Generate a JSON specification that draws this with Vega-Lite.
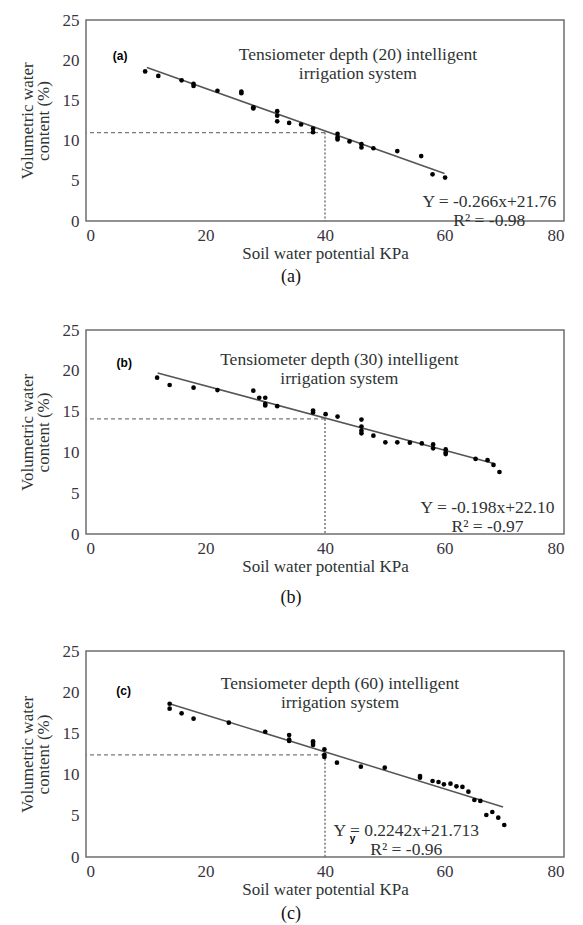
{
  "$schema": "https://vega.github.io/schema/vega-lite/v6.json",
  "padding": {"left": 17, "top": 10, "right": 5, "bottom": 0},
  "background": "white",
  "spacing": 33,
  "datasets": {
    "points": [
      {"panel": "a", "kpa": 9.9, "vwc": 18.6}, {"panel": "a", "kpa": 12.1, "vwc": 18.05},
      {"panel": "a", "kpa": 16.0, "vwc": 17.5}, {"panel": "a", "kpa": 18.0, "vwc": 17.05},
      {"panel": "a", "kpa": 18.0, "vwc": 16.8}, {"panel": "a", "kpa": 22.0, "vwc": 16.2},
      {"panel": "a", "kpa": 26.0, "vwc": 16.1}, {"panel": "a", "kpa": 26.0, "vwc": 15.9},
      {"panel": "a", "kpa": 28.0, "vwc": 14.15}, {"panel": "a", "kpa": 28.0, "vwc": 14.0},
      {"panel": "a", "kpa": 32.0, "vwc": 13.66}, {"panel": "a", "kpa": 32.0, "vwc": 13.1},
      {"panel": "a", "kpa": 32.0, "vwc": 12.4}, {"panel": "a", "kpa": 34.0, "vwc": 12.2},
      {"panel": "a", "kpa": 36.0, "vwc": 12.0}, {"panel": "a", "kpa": 38.0, "vwc": 11.5},
      {"panel": "a", "kpa": 38.0, "vwc": 11.05}, {"panel": "a", "kpa": 42.1, "vwc": 10.85},
      {"panel": "a", "kpa": 42.1, "vwc": 10.4}, {"panel": "a", "kpa": 42.1, "vwc": 10.15},
      {"panel": "a", "kpa": 44.1, "vwc": 9.9}, {"panel": "a", "kpa": 46.1, "vwc": 9.55},
      {"panel": "a", "kpa": 46.1, "vwc": 9.15}, {"panel": "a", "kpa": 48.1, "vwc": 9.05},
      {"panel": "a", "kpa": 52.1, "vwc": 8.7}, {"panel": "a", "kpa": 56.1, "vwc": 8.07},
      {"panel": "a", "kpa": 58.0, "vwc": 5.8}, {"panel": "a", "kpa": 60.1, "vwc": 5.4},
      {"panel": "b", "kpa": 11.9, "vwc": 19.16}, {"panel": "b", "kpa": 14.0, "vwc": 18.26},
      {"panel": "b", "kpa": 18.0, "vwc": 17.93}, {"panel": "b", "kpa": 22.0, "vwc": 17.64},
      {"panel": "b", "kpa": 28.0, "vwc": 17.56}, {"panel": "b", "kpa": 29.0, "vwc": 16.7},
      {"panel": "b", "kpa": 30.0, "vwc": 16.7}, {"panel": "b", "kpa": 30.0, "vwc": 15.95},
      {"panel": "b", "kpa": 30.0, "vwc": 15.75}, {"panel": "b", "kpa": 32.0, "vwc": 15.67},
      {"panel": "b", "kpa": 38.0, "vwc": 15.13}, {"panel": "b", "kpa": 38.0, "vwc": 14.9},
      {"panel": "b", "kpa": 40.1, "vwc": 14.68}, {"panel": "b", "kpa": 42.1, "vwc": 14.39},
      {"panel": "b", "kpa": 46.1, "vwc": 14.02}, {"panel": "b", "kpa": 46.1, "vwc": 13.16},
      {"panel": "b", "kpa": 46.1, "vwc": 12.66}, {"panel": "b", "kpa": 46.1, "vwc": 12.34},
      {"panel": "b", "kpa": 48.1, "vwc": 12.05}, {"panel": "b", "kpa": 50.1, "vwc": 11.23},
      {"panel": "b", "kpa": 52.1, "vwc": 11.23}, {"panel": "b", "kpa": 54.2, "vwc": 11.19},
      {"panel": "b", "kpa": 56.2, "vwc": 11.1}, {"panel": "b", "kpa": 58.1, "vwc": 10.98},
      {"panel": "b", "kpa": 58.1, "vwc": 10.5}, {"panel": "b", "kpa": 60.2, "vwc": 10.36},
      {"panel": "b", "kpa": 60.2, "vwc": 10.0}, {"panel": "b", "kpa": 60.2, "vwc": 9.8},
      {"panel": "b", "kpa": 65.2, "vwc": 9.2}, {"panel": "b", "kpa": 67.2, "vwc": 9.05},
      {"panel": "b", "kpa": 68.2, "vwc": 8.47}, {"panel": "b", "kpa": 69.2, "vwc": 7.6},
      {"panel": "c", "kpa": 14.0, "vwc": 18.6}, {"panel": "c", "kpa": 14.0, "vwc": 18.0},
      {"panel": "c", "kpa": 16.0, "vwc": 17.44}, {"panel": "c", "kpa": 18.0, "vwc": 16.79},
      {"panel": "c", "kpa": 23.9, "vwc": 16.3}, {"panel": "c", "kpa": 30.0, "vwc": 15.2},
      {"panel": "c", "kpa": 34.0, "vwc": 14.8}, {"panel": "c", "kpa": 34.0, "vwc": 14.24},
      {"panel": "c", "kpa": 34.0, "vwc": 14.08}, {"panel": "c", "kpa": 38.0, "vwc": 14.04},
      {"panel": "c", "kpa": 38.0, "vwc": 13.83}, {"panel": "c", "kpa": 38.0, "vwc": 13.6},
      {"panel": "c", "kpa": 39.9, "vwc": 13.07}, {"panel": "c", "kpa": 39.9, "vwc": 12.4},
      {"panel": "c", "kpa": 39.9, "vwc": 12.14}, {"panel": "c", "kpa": 42.0, "vwc": 11.45},
      {"panel": "c", "kpa": 46.0, "vwc": 10.96}, {"panel": "c", "kpa": 50.0, "vwc": 10.84},
      {"panel": "c", "kpa": 55.9, "vwc": 9.83}, {"panel": "c", "kpa": 55.9, "vwc": 9.63},
      {"panel": "c", "kpa": 58.0, "vwc": 9.22}, {"panel": "c", "kpa": 59.0, "vwc": 9.1},
      {"panel": "c", "kpa": 59.9, "vwc": 8.82}, {"panel": "c", "kpa": 61.0, "vwc": 8.9},
      {"panel": "c", "kpa": 62.0, "vwc": 8.58}, {"panel": "c", "kpa": 63.0, "vwc": 8.5},
      {"panel": "c", "kpa": 64.0, "vwc": 7.93}, {"panel": "c", "kpa": 65.0, "vwc": 6.92},
      {"panel": "c", "kpa": 66.0, "vwc": 6.8}, {"panel": "c", "kpa": 67.0, "vwc": 5.1},
      {"panel": "c", "kpa": 68.0, "vwc": 5.46}, {"panel": "c", "kpa": 69.0, "vwc": 4.77},
      {"panel": "c", "kpa": 70.0, "vwc": 3.88}
    ],
    "fits": [
      {"panel": "a", "kpa": 10.2, "vwc": 19.1}, {"panel": "a", "kpa": 60.0, "vwc": 5.9},
      {"panel": "b", "kpa": 12.0, "vwc": 19.74}, {"panel": "b", "kpa": 68.1, "vwc": 8.68},
      {"panel": "c", "kpa": 14.0, "vwc": 18.6}, {"panel": "c", "kpa": 69.8, "vwc": 6.07}
    ],
    "guides": [
      {"panel": "a", "kpa": 40, "vwc": 11.0},
      {"panel": "b", "kpa": 40, "vwc": 14.1},
      {"panel": "c", "kpa": 40, "vwc": 12.4}
    ],
    "one": [{}]
  },
  "vconcat": [
    {
      "width": 478,
      "height": 201,
      "title": {"text": "(a)", "orient": "bottom", "frame": "bounds", "anchor": "middle", "offset": 7},
      "layer": [
        {
          "data": {"name": "guides"},
          "transform": [{"filter": "datum.panel == 'a'"}],
          "mark": {"type": "rule", "color": "#7a7a7a", "strokeWidth": 1.2, "strokeDash": [4, 3]},
          "encoding": {
            "x": {"field": "kpa", "type": "quantitative"},
            "x2": {"datum": 0},
            "y": {"field": "vwc", "type": "quantitative"}
          }
        },
        {
          "data": {"name": "guides"},
          "transform": [{"filter": "datum.panel == 'a'"}],
          "mark": {"type": "rule", "color": "#555555", "strokeWidth": 1.2, "strokeDash": [2, 2]},
          "encoding": {
            "x": {"field": "kpa", "type": "quantitative"},
            "y": {"field": "vwc", "type": "quantitative"},
            "y2": {"datum": 0}
          }
        },
        {
          "data": {"name": "fits"},
          "transform": [{"filter": "datum.panel == 'a'"}],
          "mark": {"type": "line", "color": "#555555", "strokeWidth": 1.5},
          "encoding": {
            "x": {"field": "kpa", "type": "quantitative"},
            "y": {"field": "vwc", "type": "quantitative"}
          }
        },
        {
          "data": {"name": "points"},
          "transform": [{"filter": "datum.panel == 'a'"}],
          "mark": {"type": "circle", "color": "#000000", "size": 22, "opacity": 1},
          "encoding": {
            "x": {"field": "kpa", "type": "quantitative", "scale": {"domain": [0, 80], "nice": false},
                  "axis": {"values": [0, 20, 40, 60, 80], "labelOverlap": false, "title": "Soil water potential KPa"}},
            "y": {"field": "vwc", "type": "quantitative", "scale": {"domain": [0, 25], "nice": false},
                  "axis": {"values": [0, 5, 10, 15, 20, 25], "labelOverlap": false, "title": ["Volumetric water", "content (%)"]}}
          }
        },
        {
          "data": {"name": "one"},
          "mark": {"type": "text", "text": ["Tensiometer depth (20) intelligent", "irrigation system"], "fontSize": 17.5, "lineHeight": 19},
          "encoding": {
            "x": {"datum": 45.5, "type": "quantitative"},
            "y": {"datum": 20.7, "type": "quantitative"}
          }
        },
        {
          "data": {"name": "one"},
          "mark": {"type": "text", "text": ["Y = -0.266x+21.76", "R² = -0.98"], "fontSize": 17.5, "lineHeight": 19},
          "encoding": {
            "x": {"datum": 67.5, "type": "quantitative"},
            "y": {"datum": 2.4, "type": "quantitative"}
          }
        },
        {
          "data": {"name": "one"},
          "mark": {"type": "text", "text": "(a)", "font": "Liberation Sans", "fontWeight": "bold", "fontSize": 12, "color": "#000000"},
          "encoding": {
            "x": {"datum": 5.7, "type": "quantitative"},
            "y": {"datum": 20.5, "type": "quantitative"}
          }
        }
      ]
    },
    {
      "width": 478,
      "height": 204,
      "title": {"text": "(b)", "orient": "bottom", "frame": "bounds", "anchor": "middle", "offset": 15},
      "layer": [
        {
          "data": {"name": "guides"},
          "transform": [{"filter": "datum.panel == 'b'"}],
          "mark": {"type": "rule", "color": "#7a7a7a", "strokeWidth": 1.2, "strokeDash": [4, 3]},
          "encoding": {
            "x": {"field": "kpa", "type": "quantitative"},
            "x2": {"datum": 0},
            "y": {"field": "vwc", "type": "quantitative"}
          }
        },
        {
          "data": {"name": "guides"},
          "transform": [{"filter": "datum.panel == 'b'"}],
          "mark": {"type": "rule", "color": "#555555", "strokeWidth": 1.2, "strokeDash": [2, 2]},
          "encoding": {
            "x": {"field": "kpa", "type": "quantitative"},
            "y": {"field": "vwc", "type": "quantitative"},
            "y2": {"datum": 0}
          }
        },
        {
          "data": {"name": "fits"},
          "transform": [{"filter": "datum.panel == 'b'"}],
          "mark": {"type": "line", "color": "#555555", "strokeWidth": 1.5},
          "encoding": {
            "x": {"field": "kpa", "type": "quantitative"},
            "y": {"field": "vwc", "type": "quantitative"}
          }
        },
        {
          "data": {"name": "points"},
          "transform": [{"filter": "datum.panel == 'b'"}],
          "mark": {"type": "circle", "color": "#000000", "size": 22, "opacity": 1},
          "encoding": {
            "x": {"field": "kpa", "type": "quantitative", "scale": {"domain": [0, 80], "nice": false},
                  "axis": {"values": [0, 20, 40, 60, 80], "labelOverlap": false, "title": "Soil water potential KPa"}},
            "y": {"field": "vwc", "type": "quantitative", "scale": {"domain": [0, 25], "nice": false},
                  "axis": {"values": [0, 5, 10, 15, 20, 25], "labelOverlap": false, "title": ["Volumetric water", "content (%)"]}}
          }
        },
        {
          "data": {"name": "one"},
          "mark": {"type": "text", "text": ["Tensiometer depth (30) intelligent", "irrigation system"], "fontSize": 17.5, "lineHeight": 19},
          "encoding": {
            "x": {"datum": 42.4, "type": "quantitative"},
            "y": {"datum": 21.3, "type": "quantitative"}
          }
        },
        {
          "data": {"name": "one"},
          "mark": {"type": "text", "text": ["Y = -0.198x+22.10", "R² = -0.97"], "fontSize": 17.5, "lineHeight": 19},
          "encoding": {
            "x": {"datum": 67.2, "type": "quantitative"},
            "y": {"datum": 3.2, "type": "quantitative"}
          }
        },
        {
          "data": {"name": "one"},
          "mark": {"type": "text", "text": "(b)", "font": "Liberation Sans", "fontWeight": "bold", "fontSize": 12, "color": "#000000"},
          "encoding": {
            "x": {"datum": 6.4, "type": "quantitative"},
            "y": {"datum": 21.0, "type": "quantitative"}
          }
        }
      ]
    },
    {
      "width": 478,
      "height": 206,
      "title": {"text": "(c)", "orient": "bottom", "frame": "bounds", "anchor": "middle", "offset": 8},
      "layer": [
        {
          "data": {"name": "guides"},
          "transform": [{"filter": "datum.panel == 'c'"}],
          "mark": {"type": "rule", "color": "#7a7a7a", "strokeWidth": 1.2, "strokeDash": [4, 3]},
          "encoding": {
            "x": {"field": "kpa", "type": "quantitative"},
            "x2": {"datum": 0},
            "y": {"field": "vwc", "type": "quantitative"}
          }
        },
        {
          "data": {"name": "guides"},
          "transform": [{"filter": "datum.panel == 'c'"}],
          "mark": {"type": "rule", "color": "#555555", "strokeWidth": 1.2, "strokeDash": [2, 2]},
          "encoding": {
            "x": {"field": "kpa", "type": "quantitative"},
            "y": {"field": "vwc", "type": "quantitative"},
            "y2": {"datum": 0}
          }
        },
        {
          "data": {"name": "fits"},
          "transform": [{"filter": "datum.panel == 'c'"}],
          "mark": {"type": "line", "color": "#555555", "strokeWidth": 1.5},
          "encoding": {
            "x": {"field": "kpa", "type": "quantitative"},
            "y": {"field": "vwc", "type": "quantitative"}
          }
        },
        {
          "data": {"name": "points"},
          "transform": [{"filter": "datum.panel == 'c'"}],
          "mark": {"type": "circle", "color": "#000000", "size": 22, "opacity": 1},
          "encoding": {
            "x": {"field": "kpa", "type": "quantitative", "scale": {"domain": [0, 80], "nice": false},
                  "axis": {"values": [0, 20, 40, 60, 80], "labelOverlap": false, "title": "Soil water potential KPa"}},
            "y": {"field": "vwc", "type": "quantitative", "scale": {"domain": [0, 25], "nice": false},
                  "axis": {"values": [0, 5, 10, 15, 20, 25], "labelOverlap": false, "title": ["Volumetric water", "content (%)"]}}
          }
        },
        {
          "data": {"name": "one"},
          "mark": {"type": "text", "text": ["Tensiometer depth (60) intelligent", "irrigation system"], "fontSize": 17.5, "lineHeight": 19},
          "encoding": {
            "x": {"datum": 42.5, "type": "quantitative"},
            "y": {"datum": 21.0, "type": "quantitative"}
          }
        },
        {
          "data": {"name": "one"},
          "mark": {"type": "text", "text": ["Y = 0.2242x+21.713", "R² = -0.96"], "fontSize": 17.5, "lineHeight": 19},
          "encoding": {
            "x": {"datum": 53.6, "type": "quantitative"},
            "y": {"datum": 3.1, "type": "quantitative"}
          }
        },
        {
          "data": {"name": "one"},
          "mark": {"type": "text", "text": "y", "font": "Liberation Sans", "fontWeight": "bold", "fontSize": 10, "color": "#000000"},
          "encoding": {
            "x": {"datum": 44.6, "type": "quantitative"},
            "y": {"datum": 2.2, "type": "quantitative"}
          }
        },
        {
          "data": {"name": "one"},
          "mark": {"type": "text", "text": "(c)", "font": "Liberation Sans", "fontWeight": "bold", "fontSize": 12, "color": "#000000"},
          "encoding": {
            "x": {"datum": 6.3, "type": "quantitative"},
            "y": {"datum": 20.1, "type": "quantitative"}
          }
        }
      ]
    }
  ],
  "config": {
    "font": "Liberation Serif",
    "view": {"stroke": "#6e6e6e", "strokeWidth": 1.5},
    "text": {"font": "Liberation Serif", "color": "#2e3333", "baseline": "middle", "align": "center"},
    "axis": {
      "domain": false,
      "grid": false,
      "ticks": false,
      "labelOverlap": false,
      "labelFont": "Liberation Serif",
      "labelFontSize": 17,
      "labelColor": "#3a3340",
      "titleFont": "Liberation Serif",
      "titleFontSize": 17,
      "titleFontWeight": "normal",
      "titleColor": "#2e3333"
    },
    "axisX": {"labelPadding": 6, "titlePadding": 2},
    "axisY": {"labelPadding": 7, "titlePadding": 10, "titleLineHeight": 16},
    "title": {"font": "Liberation Serif", "fontSize": 18, "fontWeight": "normal", "color": "#111111"}
  }
}
